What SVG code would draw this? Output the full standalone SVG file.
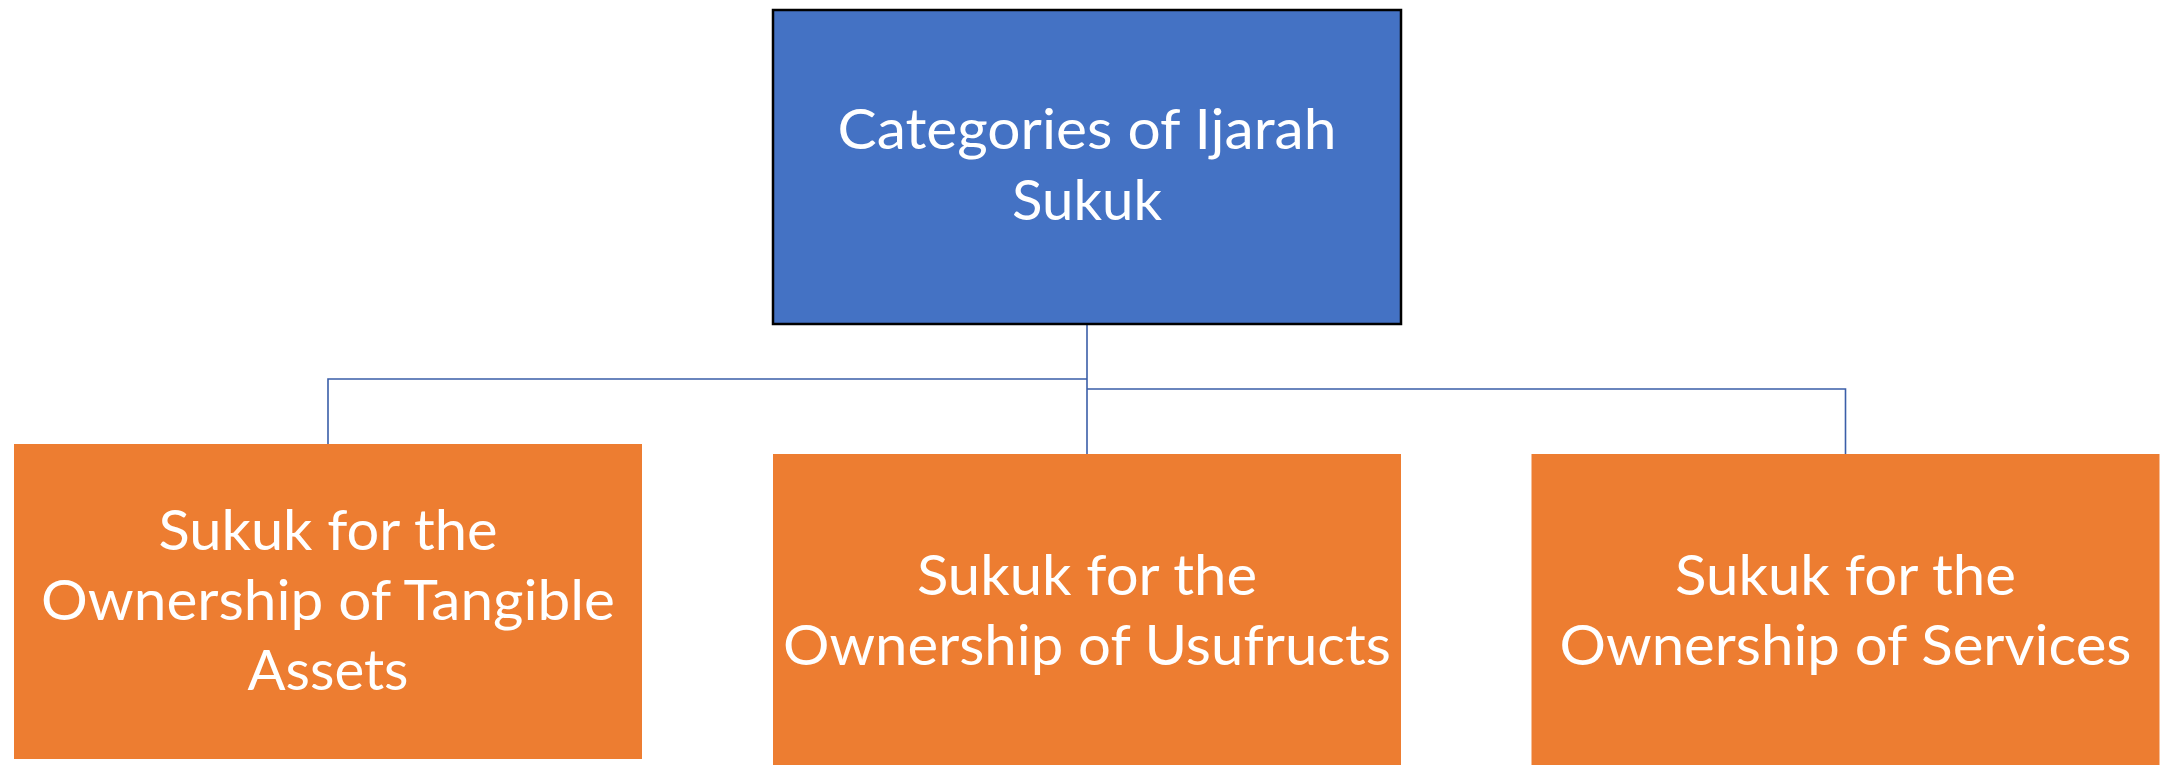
<svg xmlns="http://www.w3.org/2000/svg" width="2171" height="765" viewBox="0 0 2171 765">
  <style>
    .root { fill: #4472C4; stroke: #000000; stroke-width: 2.5; }
    .leaf { fill: #ED7D31; }
    .label { fill: #FFFFFF; font-family: Lato, "Open Sans", "Liberation Sans", sans-serif; font-size: 57px; text-anchor: middle; }
    .link { fill: none; stroke: #3A5EA8; stroke-width: 1.6; }
  </style>
  <rect width="2171" height="765" fill="#FFFFFF"/>

  <!-- tree connectors -->
  <g id="connectors">
    <path class="link" d="M1087,324 V454"/>
    <path class="link" d="M1087,379 H328 V444"/>
    <path class="link" d="M1087,389 H1845.5 V454"/>
  </g>

  <g id="node-root">
    <rect class="root" x="773" y="10" width="628" height="314"/>
    <text class="label" x="1087" y="149" textLength="499" lengthAdjust="spacingAndGlyphs">Categories of Ijarah</text>
    <text class="label" x="1087" y="220" textLength="150" lengthAdjust="spacingAndGlyphs">Sukuk</text>
  </g>

  <g id="node-tangible">
    <rect class="leaf" x="14" y="444" width="628" height="315"/>
    <text class="label" x="328" y="550" textLength="339" lengthAdjust="spacingAndGlyphs">Sukuk for the</text>
    <text class="label" x="328" y="620" textLength="574" lengthAdjust="spacingAndGlyphs">Ownership of Tangible</text>
    <text class="label" x="328" y="690" textLength="161" lengthAdjust="spacingAndGlyphs">Assets</text>
  </g>

  <g id="node-usufructs">
    <rect class="leaf" x="773" y="454" width="628" height="315"/>
    <text class="label" x="1087" y="595" textLength="340" lengthAdjust="spacingAndGlyphs">Sukuk for the</text>
    <text class="label" x="1087" y="665" textLength="608" lengthAdjust="spacingAndGlyphs">Ownership of Usufructs</text>
  </g>

  <g id="node-services">
    <rect class="leaf" x="1531.5" y="454" width="628" height="315"/>
    <text class="label" x="1845.5" y="595" textLength="341" lengthAdjust="spacingAndGlyphs">Sukuk for the</text>
    <text class="label" x="1845.5" y="665" textLength="572" lengthAdjust="spacingAndGlyphs">Ownership of Services</text>
  </g>
</svg>
